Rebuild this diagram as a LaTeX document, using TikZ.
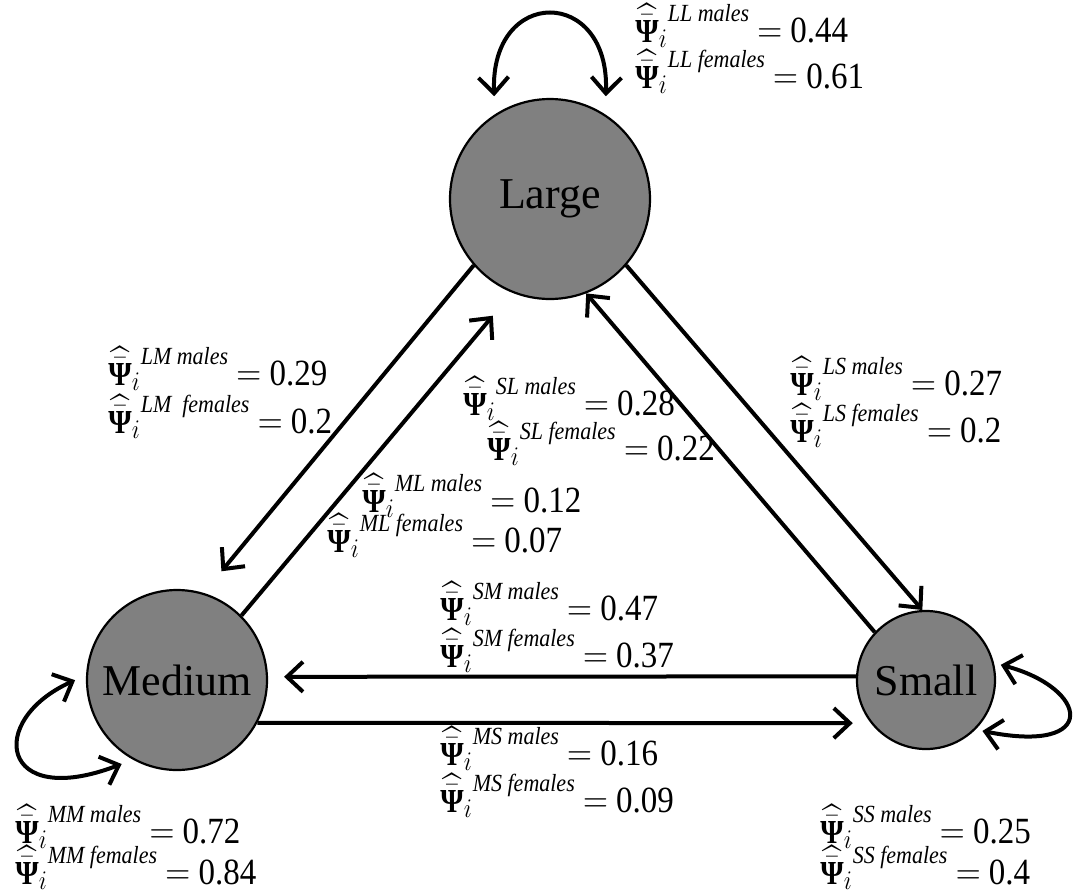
\documentclass[tikz,border=0pt]{standalone}
\usepackage{amsmath}
\usepackage{graphicx}
\usepackage{fontspec}
\setmainfont{Liberation Serif}
\usepackage{tikz}
\usetikzlibrary{arrows.meta}
\newcommand{\psirate}[2]{\scalebox{1}[1.12]{$\widehat{\bar{\text{\fontsize{15}{18}\selectfont\bfseries Ψ}}}_{i}$\raisebox{0.55em}{\fontsize{11}{13}\selectfont\itshape #1}\ $=$ #2}}

\begin{document}
\begin{tikzpicture}[x=0.5pt, y=-0.5pt,
    >={Straight Barb[length=8pt,width=15pt]},
    sizenode/.style={circle, draw=black, line width=1.1pt, fill=gray, inner sep=0pt, font=\fontsize{22}{26}\selectfont},
    move/.style={line width=2pt, ->},
    stay/.style={line width=2pt, <->},
    rate/.style={anchor=base west, inner sep=0pt, font=\fontsize{16.5}{19}\selectfont}]
    \useasboundingbox (0,0) rectangle (1073,890);
    \node[sizenode, minimum size=100pt] (large) at (550,199) {Large};
    \node[sizenode, minimum size=90pt] (medium) at (177,680) {Medium};
    \node[sizenode, minimum size=69pt] (small) at (926,680) {Small};

    \draw[move, shorten >=14pt] (large.221) -- (medium.73);
    \draw[move, shorten >=15pt] (medium.45) -- (large.248);
    \draw[move] (large.319) -- (small.93);
    \draw[move] (small.137) -- (large.291);
    \draw[move, shorten >=8pt] (small.177) -- (medium.2);
    \draw[move, shorten >=9pt] (medium.332) -- (small.218);

    \draw[stay, shorten <=9pt, shorten >=9pt] (large.123) .. controls +(-5,-128) and +(5,-128) .. (large.57);
    \draw[stay, shorten <=6pt, shorten >=6pt] (medium.177) .. controls +(-100,45) and +(-133,51) .. (medium.241);
    \draw[stay, shorten <=3.5pt, shorten >=3.5pt] (small.14) .. controls +(95,25) and +(125,25) .. (small.315);

    \node[rate] (llm) at (635,42) {\psirate{LL males}{0.44}};
    \node[rate] (llf) at (635,88) {\psirate{LL females}{0.61}};
    \node[rate] (lmm) at (108,385) {\psirate{LM males}{0.29}};
    \node[rate] (lmf) at (108,433) {\psirate{LM\ \ females}{0.2}};
    \node[rate] (slm) at (463,415) {\psirate{SL males}{0.28}};
    \node[rate] (slf) at (487,460) {\psirate{SL females}{0.22}};
    \node[rate] (mlm) at (362,512) {\psirate{ML males}{0.12}};
    \node[rate] (mlf) at (327,552) {\psirate{ML females}{0.07}};
    \node[rate] (lsm) at (790,395) {\psirate{LS males}{0.27}};
    \node[rate] (lsf) at (790,442) {\psirate{LS females}{0.2}};
    \node[rate] (smm) at (440,620) {\psirate{SM males}{0.47}};
    \node[rate] (smf) at (440,667) {\psirate{SM females}{0.37}};
    \node[rate] (msm) at (440,765) {\psirate{MS males}{0.16}};
    \node[rate] (msf) at (440,812) {\psirate{MS females}{0.09}};
    \node[rate] (mmm) at (15,843) {\psirate{MM males}{0.72}};
    \node[rate] (mmf) at (15,884) {\psirate{MM females}{0.84}};
    \node[rate] (ssm) at (820,843) {\psirate{SS males}{0.25}};
    \node[rate] (ssf) at (820,884) {\psirate{SS females}{0.4}};
\end{tikzpicture}
\end{document}
